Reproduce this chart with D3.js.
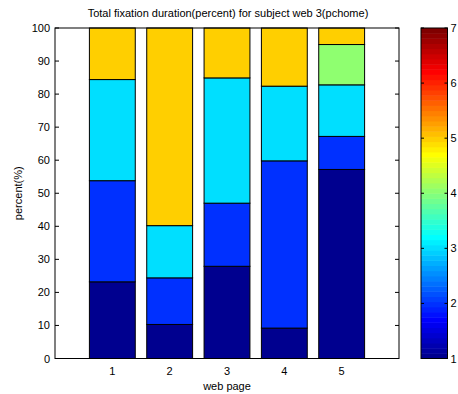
<!DOCTYPE html>
<html>
<head>
<meta charset="utf-8">
<script src="https://cdn.jsdelivr.net/npm/d3@7"></script>
<style>
  body { margin: 0; background: #fff; }
  text { font-family: Arial, "Liberation Sans", sans-serif; font-size: 11px; fill: #000; }
</style>
</head>
<body>
<svg id="chart" width="458" height="394"></svg>
<script>
// chart values
const pages = [1, 2, 3, 4, 5]
const seriesNames = ['s1', 's2', 's3', 's4', 's5']
const s1 = [23.2, 10.3, 27.9, 9.2, 57.2]
const s2 = [30.6, 14.1, 19.1, 50.6, 10.0]
const s3 = [30.6, 15.8, 37.9, 22.6, 15.6]
const s4 = [0, 0, 0, 0, 12.2]
const s5 = [15.6, 59.8, 15.1, 17.6, 5.0]
const yTicks = [0, 10, 20, 30, 40, 50, 60, 70, 80, 90, 100]
const cbTicks = [1, 2, 3, 4, 5, 6, 7]
const seriesColorValue = [1, 2, 3, 4, 5] // colour index into caxis 1..7

const title = 'Total fixation duration(percent) for subject web 3(pchome)'

// matlab jet(64)
function jet64(i) { // i = 1..64
  const u = []
  for (let k = 1; k <= 16; k++) u.push(k / 16)
  for (let k = 0; k < 15; k++) u.push(1)
  for (let k = 16; k >= 1; k--) u.push(k / 16)
  const pick = j => (j >= 1 && j <= u.length ? u[j - 1] : 0)
  const r = pick(i - 24), g = pick(i - 8), b = pick(i + 8)
  return d3.rgb(r * 255, g * 255, b * 255).formatHex()
}
const cmap = v => jet64(Math.min(64, Math.floor((v - 1) / 6 * 64) + 1))

const svg = d3.select('#chart')
const m = { left: 55, top: 28, right: 399, bottom: 358.5 }

const x = d3.scaleLinear().domain([0, 6]).range([m.left, m.right])
const y = d3.scaleLinear().domain([0, 100]).range([m.bottom, m.top])
const bw = (x(1) - x(0)) * 0.8

// axes box background
svg.append('rect')
  .attr('x', m.left).attr('y', m.top)
  .attr('width', m.right - m.left).attr('height', m.bottom - m.top)
  .style('fill', '#fff')

// ticks (inside)
const tl = 4
const g = svg.append('g').style('stroke', '#000').style('stroke-width', 1)
yTicks.forEach(t => {
  g.append('line').attr('x1', m.left).attr('x2', m.left + tl).attr('y1', y(t)).attr('y2', y(t))
  g.append('line').attr('x1', m.right).attr('x2', m.right - tl).attr('y1', y(t)).attr('y2', y(t))
})
pages.forEach(p => {
  g.append('line').attr('x1', x(p)).attr('x2', x(p)).attr('y1', m.bottom).attr('y2', m.bottom - tl)
  g.append('line').attr('x1', x(p)).attr('x2', x(p)).attr('y1', m.top).attr('y2', m.top + tl)
})

// stacked bars
const table = pages.map((p, i) => ({ page: p, s1: s1[i], s2: s2[i], s3: s3[i], s4: s4[i], s5: s5[i] }))
const stacked = d3.stack().keys(seriesNames)(table)

svg.append('g').selectAll('g')
  .data(stacked)
  .join('g')
  .style('fill', (d, i) => cmap(seriesColorValue[i]))
  .selectAll('rect')
  .data(d => d)
  .join('rect')
  .attr('x', d => x(d.data.page) - bw / 2)
  .attr('y', d => y(d[1]))
  .attr('width', bw)
  .attr('height', d => y(d[0]) - y(d[1]))
  .style('stroke', '#000')
  .style('stroke-width', 1)

// axes box
svg.append('rect')
  .attr('x', m.left).attr('y', m.top)
  .attr('width', m.right - m.left).attr('height', m.bottom - m.top)
  .style('fill', 'none').style('stroke', '#000').style('stroke-width', 1)

// tick labels
svg.append('g').selectAll('text')
  .data(yTicks).join('text')
  .attr('x', m.left - 5).attr('y', d => y(d) + 4)
  .attr('text-anchor', 'end')
  .text(d => d)

svg.append('g').selectAll('text')
  .data(pages).join('text')
  .attr('x', d => x(d)).attr('y', m.bottom + 16)
  .attr('text-anchor', 'middle')
  .text(d => d)

svg.append('text')
  .attr('x', (m.left + m.right) / 2).attr('y', 390)
  .attr('text-anchor', 'middle')
  .text('web page')

svg.append('text')
  .attr('transform', `translate(22,${(m.top + m.bottom) / 2}) rotate(-90)`)
  .attr('text-anchor', 'middle')
  .text('percent(%)')

svg.append('text')
  .attr('x', (m.left + m.right) / 2 + 1).attr('y', 17)
  .attr('text-anchor', 'middle')
  .text(title)

// colorbar
const cb = { left: 421, right: 447.5 }
const cy = d3.scaleLinear().domain([1, 7]).range([m.bottom, m.top])
const bands = d3.range(1, 65)
svg.append('g').selectAll('rect')
  .data(bands).join('rect')
  .attr('x', cb.left)
  .attr('y', d => cy(1 + d * 6 / 64))
  .attr('width', cb.right - cb.left)
  .attr('height', cy(1) - cy(1 + 6 / 64) + 0.5)
  .style('fill', d => jet64(d))

const cg = svg.append('g').style('stroke', '#000').style('stroke-width', 1)
cbTicks.forEach(t => {
  cg.append('line').attr('x1', cb.left).attr('x2', cb.left + 3).attr('y1', cy(t)).attr('y2', cy(t))
  cg.append('line').attr('x1', cb.right).attr('x2', cb.right - 3).attr('y1', cy(t)).attr('y2', cy(t))
})
svg.append('rect')
  .attr('x', cb.left).attr('y', m.top)
  .attr('width', cb.right - cb.left).attr('height', m.bottom - m.top)
  .style('fill', 'none').style('stroke', '#000').style('stroke-width', 1)

svg.append('g').selectAll('text')
  .data(cbTicks).join('text')
  .attr('x', cb.right + 3).attr('y', d => cy(d) + 4)
  .text(d => d)
</script>
</body>
</html>
